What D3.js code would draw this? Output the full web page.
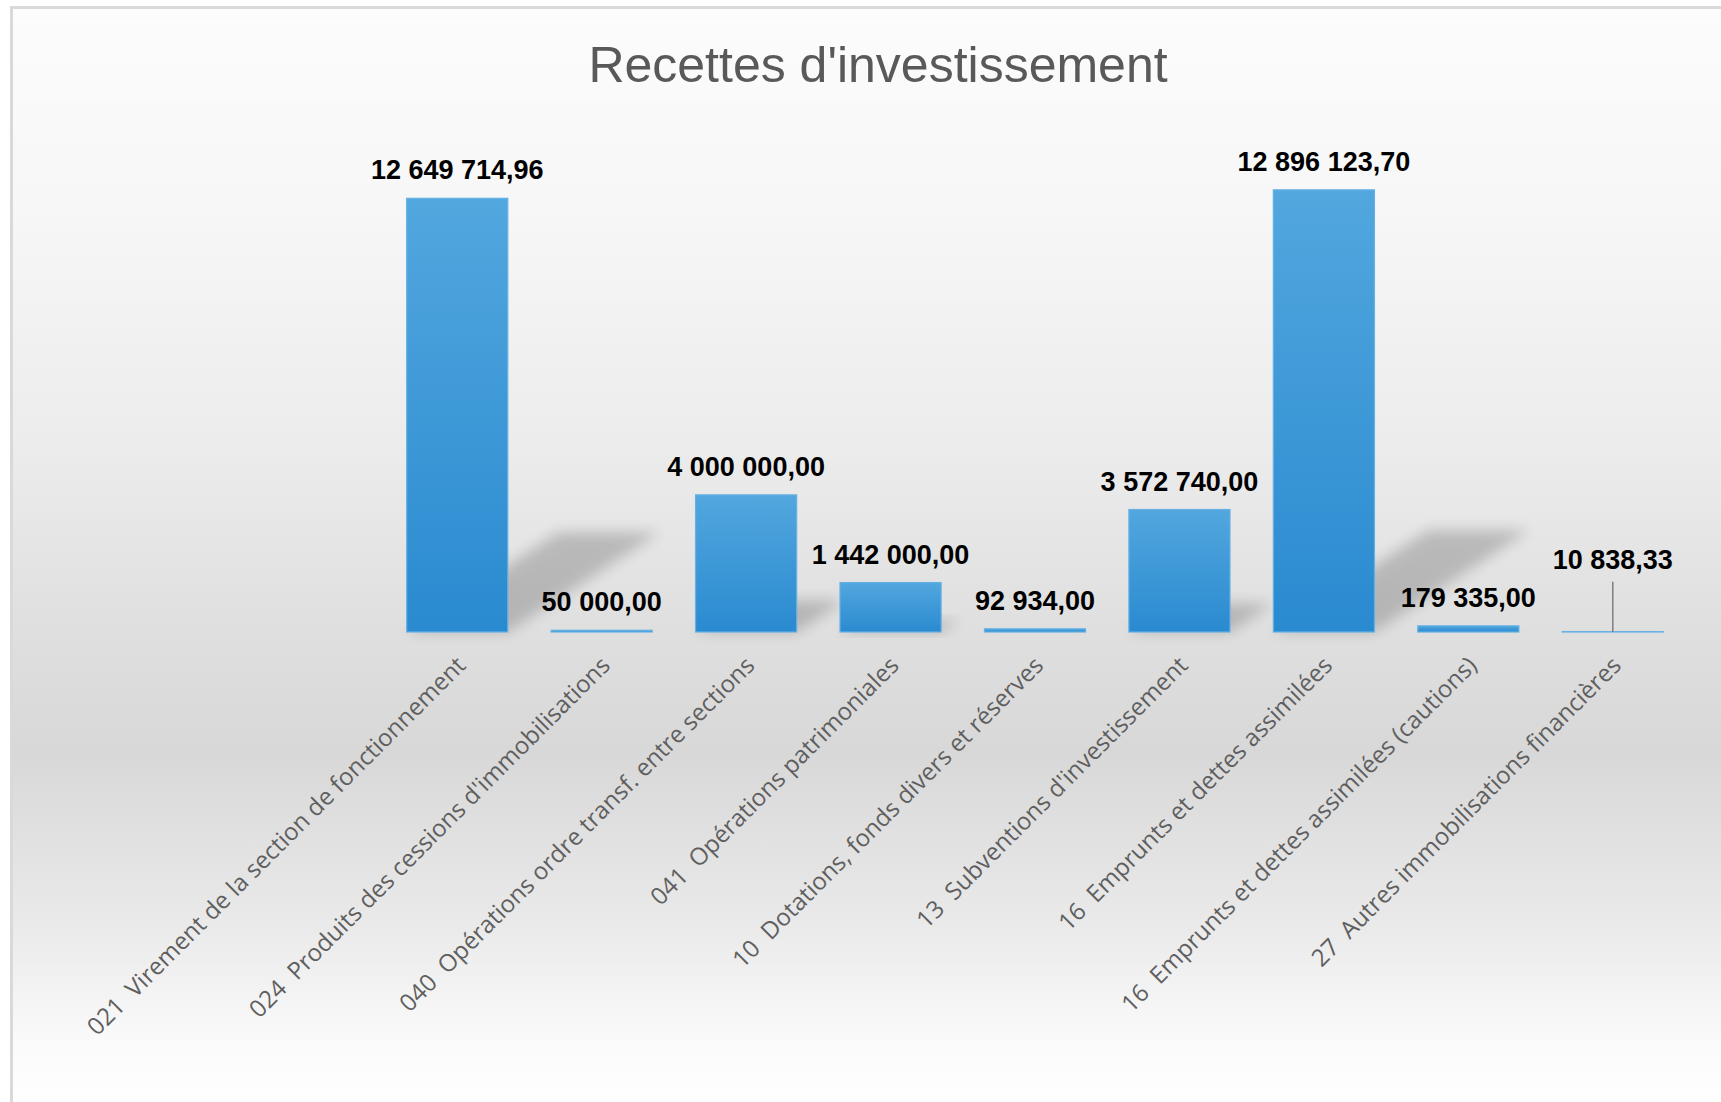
<!DOCTYPE html>
<html>
<head>
<meta charset="utf-8">
<script src="https://cdn.jsdelivr.net/npm/d3@7"></script>
<style>
  body { margin: 0; background: #ffffff; }
  svg { display: block; }
</style>
</head>
<body>
<svg width="1721" height="1102"></svg>
<script>
const chartTitle = "Recettes d'investissement";
const categories = [
  "021  Virement de la section de fonctionnement",
  "024  Produits des cessions d'immobilisations",
  "040  Opérations ordre transf. entre sections",
  "041  Opérations patrimoniales",
  "10  Dotations, fonds divers et réserves",
  "13  Subventions d'investissement",
  "16  Emprunts et dettes assimilées",
  "16  Emprunts et dettes assimilées (cautions)",
  "27  Autres immobilisations financières"
];
const values = [12649714.96, 50000.00, 4000000.00, 1442000.00, 92934.00, 3572740.00, 12896123.70, 179335.00, 10838.33];
const yDomain = [0, 14000000];

let svg = d3.select('svg');
let defs = svg.append('defs');

// background of the chart area (grey band behind the axis)
let bg = defs.append('linearGradient').attr('id', 'bg')
    .attr('gradientUnits', 'userSpaceOnUse')
    .attr('x1', 0).attr('y1', 7).attr('x2', 0).attr('y2', 1102);
[[0, '#fcfcfc'], [0.18, '#f7f7f7'], [0.4, '#ececec'], [0.57, '#dfdfdf'],
 [0.68, '#d8d8d8'], [0.84, '#eaeaea'], [0.95, '#fbfbfb'], [1, '#fefefe']]
  .forEach(s => bg.append('stop').attr('offset', s[0]).attr('stop-color', s[1]));

let barGrad = defs.append('linearGradient').attr('id', 'barGrad')
    .attr('x1', 0).attr('y1', 0).attr('x2', 0).attr('y2', 1);
barGrad.append('stop').attr('offset', 0).attr('stop-color', '#52a7de');
barGrad.append('stop').attr('offset', 1).attr('stop-color', '#2a8ad0');

defs.append('filter').attr('id', 'blur')
    .attr('x', '-50%').attr('y', '-50%').attr('width', '200%').attr('height', '200%')
  .append('feGaussianBlur').attr('stdDeviation', 7);

svg.append('rect')
    .attr('x', 11.5).attr('y', 7.5)
    .attr('width', 1800).attr('height', 1200)
    .attr('fill', 'url(#bg)')
    .attr('stroke', '#d9d9d9')
    .attr('stroke-width', 3);

svg.append('text')
    .attr('x', 878)
    .attr('y', 82)
    .attr('text-anchor', 'middle')
    .attr('font-family', 'Liberation Sans, Arial, sans-serif')
    .attr('font-size', '50px')
    .attr('fill', '#595959')
    .text(chartTitle);

let xScale = d3.scaleBand()
    .domain(categories)
    .range([385, 1685])
    .paddingInner(0.3)
    .paddingOuter(0.15);

let yScale = d3.scaleLinear()
    .domain(yDomain)
    .range([632, 152]);

const base = yScale(0);
const fr = d3.formatLocale({ decimal: ',', thousands: '\u00a0', grouping: [3] });
const fmt = fr.format(',.2f');

let chart = svg.append('g');

// perspective shadows
chart.selectAll('.shadow')
    .data(values)
    .enter()
    .append('polygon')
    .attr('class', 'shadow')
    .attr('points', (d, i) => {
      let x0 = xScale(categories[i]);
      let x1 = x0 + xScale.bandwidth();
      let h = base - yScale(d);
      let dx = h * 0.35, hs = h * 0.23;
      return [[x0, base], [x1, base], [x1 + dx, base - hs], [x0 + dx, base - hs]].join(' ');
    })
    .attr('fill', '#000')
    .attr('opacity', 0.19)
    .attr('filter', 'url(#blur)');

chart.selectAll('.bar')
    .data(values)
    .enter()
    .append('rect')
    .attr('class', 'bar')
    .attr('x', (d, i) => xScale(categories[i]))
    .attr('y', d => yScale(d))
    .attr('width', xScale.bandwidth())
    .attr('height', d => base - yScale(d))
    .attr('fill', 'url(#barGrad)')
    .attr('stroke', '#66b1e4')
    .attr('stroke-width', 1.2);

// value labels; the last one sits higher with a leader line
const lastRaise = 43;
let n = values.length;
let lastY = yScale(values[n - 1]) - 20 - lastRaise;
chart.append('line')
    .attr('x1', xScale(categories[n - 1]) + xScale.bandwidth() / 2)
    .attr('x2', xScale(categories[n - 1]) + xScale.bandwidth() / 2)
    .attr('y1', lastY + 13)
    .attr('y2', base)
    .attr('stroke', '#7f7f7f')
    .attr('stroke-width', 1.5);

chart.selectAll('.vlabel')
    .data(values)
    .enter()
    .append('text')
    .attr('class', 'vlabel')
    .attr('x', (d, i) => xScale(categories[i]) + xScale.bandwidth() / 2)
    .attr('y', (d, i) => i === n - 1 ? lastY : yScale(d) - 19)
    .attr('text-anchor', 'middle')
    .attr('font-family', 'Liberation Sans, Arial, sans-serif')
    .attr('font-weight', 'bold')
    .attr('font-size', '27px')
    .attr('fill', '#000000')
    .text(d => fmt(d));

// rotated category labels
chart.selectAll('.clabel')
    .data(categories)
    .enter()
    .append('text')
    .attr('class', 'clabel')
    .attr('transform', d => `translate(${xScale(d) + xScale.bandwidth() / 2 - 2}, ${base + 23}) rotate(-45)`)
    .attr('text-anchor', 'end')
    .attr('dy', '0.7em')
    .attr('font-family', 'Open Sans, sans-serif')
    .attr('font-size', '24px')
    .attr('fill', '#5f5f5f')
    .style('white-space', 'pre')
    .text(d => d);
</script>
</body>
</html>
